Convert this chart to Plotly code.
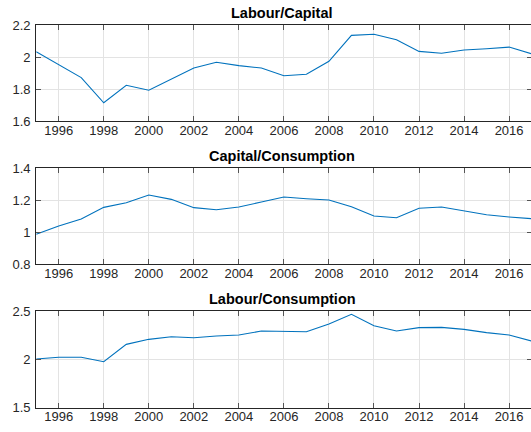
import plotly.graph_objects as go

years = list(range(1995, 2018))

labour_capital = [2.033, 1.952, 1.871, 1.714, 1.823, 1.792, 1.862, 1.931, 1.967, 1.946,
                  1.931, 1.883, 1.892, 1.973, 2.135, 2.142, 2.108, 2.035, 2.023, 2.044,
                  2.052, 2.062, 2.020]
capital_consumption = [0.988, 1.039, 1.083, 1.156, 1.185, 1.233, 1.206, 1.154, 1.141, 1.158,
                       1.189, 1.221, 1.210, 1.202, 1.160, 1.102, 1.091, 1.150, 1.158, 1.135,
                       1.110, 1.096, 1.085]
labour_consumption = [2.003, 2.021, 2.021, 1.976, 2.155, 2.207, 2.234, 2.224, 2.241, 2.252,
                      2.293, 2.293, 2.286, 2.366, 2.466, 2.348, 2.293, 2.328, 2.331, 2.310,
                      2.276, 2.252, 2.190]

titles = ["Labour/Capital", "Capital/Consumption", "Labour/Consumption"]
series = [labour_capital, capital_consumption, labour_consumption]
y_ranges = [[1.6, 2.2], [0.8, 1.4], [1.5, 2.5]]
y_ticks = [[1.6, 1.8, 2.0, 2.2], [0.8, 1.0, 1.2, 1.4], [1.5, 2.0, 2.5]]
x_ticks = list(range(1996, 2017, 2))
x_range = [1995, 2017]

W, H = 534, 432
# pixel boxes of panels (top, bottom)
panels_px = [(25, 121), (168.3, 264.3), (311, 407.7)]
x_left, x_right = 36.2, 531.6

fig = go.Figure()
axis_color = "#262626"
grid_color = "#e3e3e3"
font_family = "Liberation Sans, Arial, sans-serif"

annotations = []
for i, (t, s, yr, yt) in enumerate(zip(titles, series, y_ranges, y_ticks)):
    n = "" if i == 0 else str(i + 1)
    fig.add_trace(go.Scatter(x=years, y=s, mode="lines",
                             line=dict(color="#0072BD", width=1.1),
                             xaxis="x" + n, yaxis="y" + n, showlegend=False,
                             cliponaxis=True))
    top, bot = panels_px[i]
    dom_y = [1 - bot / H, 1 - top / H]
    fig.layout["xaxis" + n] = dict(
        domain=[x_left / W, x_right / W], range=x_range, anchor="y" + n,
        tickvals=x_ticks, ticks="inside", ticklen=5, tickcolor="#555555",
        showline=True, linecolor=axis_color, linewidth=1, mirror="allticks",
        showgrid=True, gridcolor=grid_color, gridwidth=1, zeroline=False,
        automargin=False, ticklabelstandoff=-3,
        tickfont=dict(family=font_family, size=13, color=axis_color))
    fig.layout["yaxis" + n] = dict(
        domain=dom_y, range=yr, anchor="x" + n,
        tickvals=yt, ticks="inside", ticklen=5, tickcolor="#555555",
        showline=True, linecolor=axis_color, linewidth=1, mirror="allticks",
        showgrid=True, gridcolor=grid_color, gridwidth=1, zeroline=False,
        automargin=False, ticklabelstandoff=2,
        tickfont=dict(family=font_family, size=13, color=axis_color))
    annotations.append(dict(text="<b>%s</b>" % t, xref="paper", yref="paper",
                            x=(x_left + x_right) / 2 / W - 1.5 / W, y=1 - (top - 12) / H,
                            xanchor="center", yanchor="middle", showarrow=False,
                            font=dict(family=font_family, size=14.5, color="#000000")))

fig.update_layout(width=W, height=H, margin=dict(l=0, r=0, t=0, b=0, pad=0),
                  paper_bgcolor="white", plot_bgcolor="white",
                  annotations=annotations)

fig.write_html("out.html", config={"displayModeBar": False},
               post_script="document.body.style.margin='0';document.body.style.overflow='hidden';")
